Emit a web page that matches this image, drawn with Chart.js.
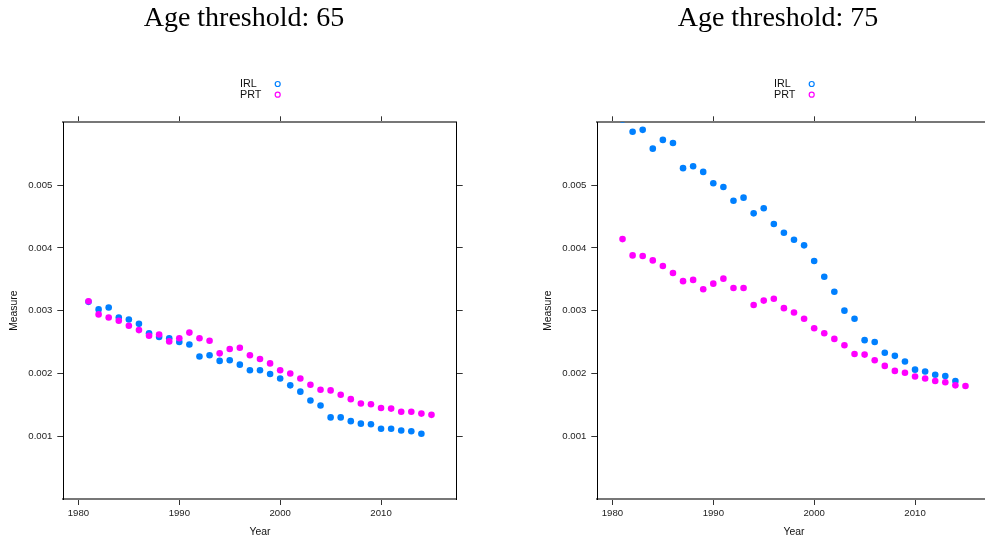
<!DOCTYPE html>
<html>
<head>
<meta charset="utf-8">
<script src="https://cdn.jsdelivr.net/npm/chart.js@4/dist/chart.umd.min.js"></script>
<style>
  html, body { margin: 0; padding: 0; background: #fff; overflow: hidden; }
  body { width: 985px; height: 539px; position: relative; }
  .panel { position: absolute; top: 0; }
</style>
</head>
<body>
<div class="panel" style="left:0px"><canvas id="chart65" width="488" height="539"></canvas></div>
<div class="panel" style="left:534px"><canvas id="chart75" width="488" height="539"></canvas></div>
<script>
const seriesNames = ["IRL", "PRT"];
const seriesColors = ["#0080ff", "#ff00ff"];

const yearsIRL = [1981, 1982, 1983, 1984, 1985, 1986, 1987, 1988, 1989, 1990, 1991, 1992, 1993, 1994, 1995, 1996, 1997,
  1998, 1999, 2000, 2001, 2002, 2003, 2004, 2005, 2006, 2007, 2008, 2009, 2010, 2011, 2012, 2013, 2014];
const yearsPRT = [1981, 1982, 1983, 1984, 1985, 1986, 1987, 1988, 1989, 1990, 1991, 1992, 1993, 1994, 1995, 1996, 1997,
  1998, 1999, 2000, 2001, 2002, 2003, 2004, 2005, 2006, 2007, 2008, 2009, 2010, 2011, 2012, 2013, 2014, 2015];

// age threshold 65
const irl65 = [0.00314, 0.00302, 0.00305, 0.00289, 0.00286, 0.00279, 0.00264, 0.00258, 0.00256, 0.00250, 0.00246,
  0.00227, 0.00229, 0.00220, 0.00221, 0.00214, 0.00205, 0.00205, 0.00199, 0.00192, 0.00181, 0.00171, 0.00157,
  0.00149, 0.00130, 0.00130, 0.00124, 0.00120, 0.00119, 0.00112, 0.00112, 0.00109, 0.00108, 0.00104];
const prt65 = [0.00315, 0.00294, 0.00289, 0.00284, 0.00276, 0.00269, 0.00260, 0.00262, 0.00251, 0.00256, 0.00265,
  0.00256, 0.00252, 0.00232, 0.00239, 0.00241, 0.00229, 0.00223, 0.00216, 0.00205, 0.00200, 0.00192, 0.00182,
  0.00174, 0.00173, 0.00166, 0.00159, 0.00152, 0.00151, 0.00145, 0.00144, 0.00139, 0.00139, 0.00136, 0.00134];

// age threshold 75
const irl75 = [0.00604, 0.00585, 0.00588, 0.00558, 0.00572, 0.00567, 0.00527, 0.00530, 0.00521, 0.00503, 0.00497,
  0.00475, 0.00480, 0.00455, 0.00463, 0.00438, 0.00424, 0.00413, 0.00404, 0.00379, 0.00354, 0.00330, 0.00300,
  0.00287, 0.00253, 0.00250, 0.00233, 0.00228, 0.00219, 0.00206, 0.00203, 0.00198, 0.00196, 0.00188];
const prt75 = [0.00414, 0.00388, 0.00387, 0.00380, 0.00371, 0.00360, 0.00347, 0.00349, 0.00334, 0.00343, 0.00351,
  0.00336, 0.00336, 0.00309, 0.00316, 0.00319, 0.00304, 0.00297, 0.00287, 0.00272, 0.00264, 0.00255, 0.00245,
  0.00231, 0.00230, 0.00221, 0.00212, 0.00204, 0.00201, 0.00195, 0.00192, 0.00188, 0.00186, 0.00181, 0.00180];

const xTicks = [1980, 1990, 2000, 2010];
const xTickLabels = ["1980", "1990", "2000", "2010"];
const yTicks = [0.001, 0.002, 0.003, 0.004, 0.005];
const yTickLabels = ["0.001", "0.002", "0.003", "0.004", "0.005"];

const sans = "'Liberation Sans', Arial, sans-serif";

// lattice style key: label first, open circle after it
const keyPlugin = {
  id: "key",
  afterDraw: (chart) => {
    const ctx = chart.ctx;
    ctx.save();
    ctx.font = "10.8px " + sans;
    ctx.textBaseline = "middle";
    ctx.textAlign = "left";
    seriesNames.forEach((name, i) => {
      const y = 84 + i * 10.7;
      ctx.fillStyle = "#111";
      ctx.fillText(name, 240, y);
      ctx.strokeStyle = seriesColors[i];
      ctx.lineWidth = 1.2;
      ctx.beginPath();
      ctx.arc(277.7, y, 2.5, 0, Math.PI * 2);
      ctx.stroke();
    });
    ctx.restore();
  }
};

const toPoints = (years, values) => years.map((yr, i) => ({ x: yr, y: values[i] }));

const setTicks = (list) => (scale) => { scale.ticks = list.map((v) => ({ value: v })); };

const tickMarks = { drawOnChartArea: false, drawTicks: true, tickLength: 6, color: "#333" };

const titleTop = 2.5;

const makeChart = (id, title, irl, prt) => {
  new Chart(document.getElementById(id), {
    type: "scatter",
    data: {
      datasets: [
        { label: seriesNames[0], data: toPoints(yearsIRL, irl), backgroundColor: seriesColors[0],
          pointRadius: 3.3, pointBorderWidth: 0, order: 1, clip: 0 },
        { label: seriesNames[1], data: toPoints(yearsPRT, prt), backgroundColor: seriesColors[1],
          pointRadius: 3.3, pointBorderWidth: 0, order: 0, clip: 0 }
      ]
    },
    options: {
      responsive: false,
      animation: false,
      events: [],
      layout: { padding: 0 },
      plugins: {
        legend: { display: false },
        tooltip: { enabled: false },
        title: {
          display: true,
          text: title,
          color: "#000",
          font: { family: "'Liberation Serif', 'Times New Roman', serif", size: 28, weight: "normal", lineHeight: 1.12 },
          padding: { top: titleTop, bottom: 0 }
        }
      },
      scales: {
        x: {
          type: "linear", position: "bottom", min: 1978.5, max: 2017.5,
          afterBuildTicks: setTicks(xTicks),
          afterFit: (s) => { s.height = 40; },
          grid: tickMarks,
          border: { display: true, color: "#777", width: 2 },
          ticks: { padding: 3, color: "#222", font: { family: sans, size: 9.6 }, maxRotation: 0,
            callback: (v, i) => xTickLabels[i] },
          title: { display: true, text: "Year", color: "#111", padding: { top: 0, bottom: 1 },
            font: { family: sans, size: 10.4, lineHeight: 1.2 } }
        },
        x2: {
          type: "linear", position: "top", min: 1978.5, max: 2017.5,
          afterBuildTicks: setTicks(xTicks),
          afterFit: (s) => { s.height = 122.3 - 31.36 - titleTop; },
          grid: tickMarks,
          border: { display: true, color: "#777", width: 2 },
          ticks: { display: false }
        },
        y: {
          type: "linear", position: "left", min: 0, max: 0.006,
          afterBuildTicks: setTicks(yTicks),
          afterFit: (s) => { s.width = 63.3; },
          grid: tickMarks,
          border: { display: true, color: "#000", width: 1 },
          ticks: { padding: 5, color: "#222", font: { family: sans, size: 9.6 },
            callback: (v, i) => yTickLabels[i] },
          title: { display: true, text: "Measure", color: "#111", padding: { top: 7.5, bottom: 0 },
            font: { family: sans, size: 10.4, lineHeight: 1.2 } }
        },
        y2: {
          type: "linear", position: "right", min: 0, max: 0.006,
          afterBuildTicks: setTicks(yTicks),
          afterFit: (s) => { s.width = 488 - 456.7; },
          grid: tickMarks,
          border: { display: true, color: "#000", width: 1 },
          ticks: { display: false }
        }
      }
    },
    plugins: [keyPlugin]
  });
};

makeChart("chart65", "Age threshold: 65", irl65, prt65);
makeChart("chart75", "Age threshold: 75", irl75, prt75);
</script>
</body>
</html>
